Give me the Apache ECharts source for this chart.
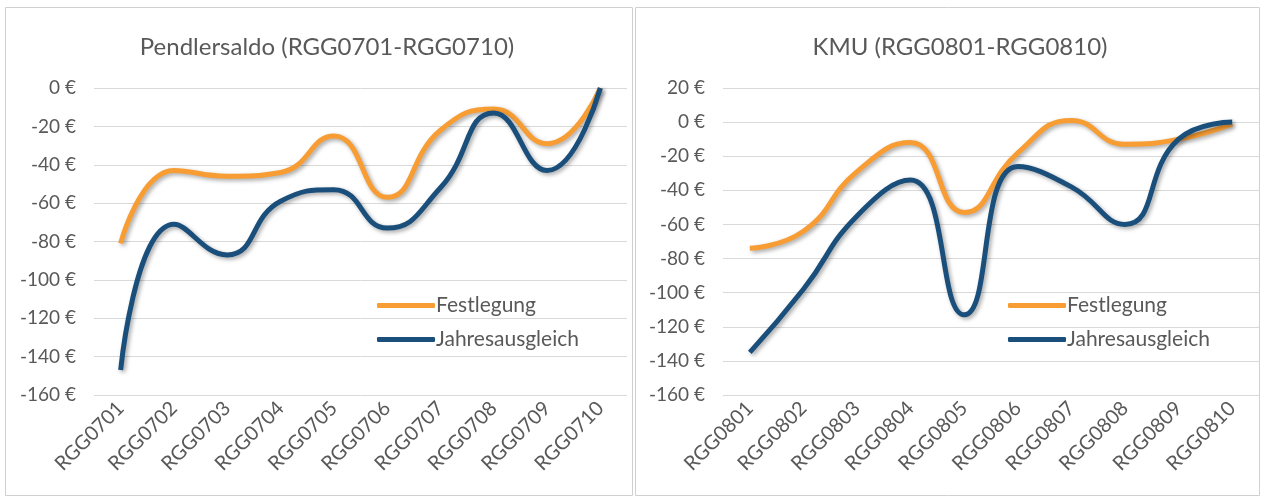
<!DOCTYPE html>
<html lang="de">
<head>
    <meta charset="utf-8">
    <script type="text/javascript" src="https://cdn.jsdelivr.net/npm/echarts@6/dist/echarts.min.js"></script>
    <title>Pendlersaldo / KMU</title>
    <style>
        html, body { margin: 0; padding: 0; background: #fff; }
        #main { width: 1263px; height: 498px; }
    </style>
</head>
<body>
<div id="main"></div>
<script>
    // Kategorien
    var cat_pendler = ['RGG0701', 'RGG0702', 'RGG0703', 'RGG0704', 'RGG0705', 'RGG0706', 'RGG0707', 'RGG0708', 'RGG0709', 'RGG0710'];
    var cat_kmu = ['RGG0801', 'RGG0802', 'RGG0803', 'RGG0804', 'RGG0805', 'RGG0806', 'RGG0807', 'RGG0808', 'RGG0809', 'RGG0810'];

    // Werte
    var pendler_festlegung = [-81, -43, -46, -44, -25, -57, -22, -11, -29, 0];
    var pendler_jahresausgleich = [-147, -71, -87, -59, -53, -73, -52, -13, -43, 0];
    var kmu_festlegung = [-74, -64, -29, -12, -53, -18, 1, -13, -10, -1];
    var kmu_jahresausgleich = [-135, -98, -55, -34, -113, -26, -38, -60, -10, 0];

    var series_names = ['Festlegung', 'Jahresausgleich'];
    var colors = ['#F79D34', '#1A4F7C'];

    var txt = '#595959';
    var font = 'Lato, "Open Sans", sans-serif';

    function line(name, idx, data, color) {
        return {
            name: name,
            type: 'line',
            xAxisIndex: idx,
            yAxisIndex: idx,
            smooth: 0.5,
            symbol: 'none',
            data: data,
            lineStyle: {
                width: 5,
                color: color,
                shadowColor: 'rgba(0,0,0,0.35)',
                shadowBlur: 4,
                shadowOffsetX: 2,
                shadowOffsetY: 2
            },
            itemStyle: {color: color}
        };
    }

    function x_axis(idx, data) {
        return {
            type: 'category',
            gridIndex: idx,
            data: data,
            boundaryGap: true,
            axisLine: {show: false},
            axisTick: {show: false},
            axisLabel: {
                interval: 0,
                rotate: 45,
                color: txt,
                fontSize: 20,
                fontFamily: font,
                margin: 10
            }
        };
    }

    function y_axis(idx, max) {
        return {
            type: 'value',
            gridIndex: idx,
            min: -160,
            max: max,
            interval: 20,
            axisLine: {show: false},
            axisTick: {show: false},
            splitLine: {lineStyle: {color: '#d9d9d9', width: 1}},
            axisLabel: {
                color: txt,
                fontSize: 19,
                fontFamily: font,
                margin: 18,
                formatter: function (v) { return v + ' €'; }
            }
        };
    }

    function legend(left) {
        return {
            left: left, top: 290, orient: 'vertical', itemGap: 13,
            itemWidth: 58, itemHeight: 5, icon: 'roundRect',
            data: series_names,
            textStyle: {color: txt, fontSize: 21, fontFamily: font, padding: [0, 0, 0, -4]}
        };
    }

    var myChart = echarts.init(document.getElementById('main'));

    var option = {
        animation: false,
        color: colors,
        title: [
            {
                text: 'Pendlersaldo (RGG0701-RGG0710)',
                left: 322, top: 30, textAlign: 'center',
                textStyle: {color: txt, fontSize: 24, fontWeight: 'normal', fontFamily: font}
            },
            {
                text: 'KMU (RGG0801-RGG0810)',
                left: 955, top: 30, textAlign: 'center',
                textStyle: {color: txt, fontSize: 24, fontWeight: 'normal', fontFamily: font}
            }
        ],
        legend: [legend(372), legend(1003)],
        grid: [
            {left: 94, top: 88, width: 533, height: 307},
            {left: 723, top: 88, width: 536, height: 307}
        ],
        xAxis: [x_axis(0, cat_pendler), x_axis(1, cat_kmu)],
        yAxis: [y_axis(0, 0), y_axis(1, 20)],
        graphic: [
            {type: 'rect', shape: {x: 5.5, y: 7.5, width: 627, height: 488}, style: {fill: 'none', stroke: '#d0d0d0', lineWidth: 1}},
            {type: 'rect', shape: {x: 635.5, y: 7.5, width: 624, height: 488}, style: {fill: 'none', stroke: '#d0d0d0', lineWidth: 1}}
        ],
        series: [
            line(series_names[0], 0, pendler_festlegung, colors[0]),
            line(series_names[1], 0, pendler_jahresausgleich, colors[1]),
            line(series_names[0], 1, kmu_festlegung, colors[0]),
            line(series_names[1], 1, kmu_jahresausgleich, colors[1])
        ]
    };

    myChart.setOption(option);
</script>
</body>
</html>
